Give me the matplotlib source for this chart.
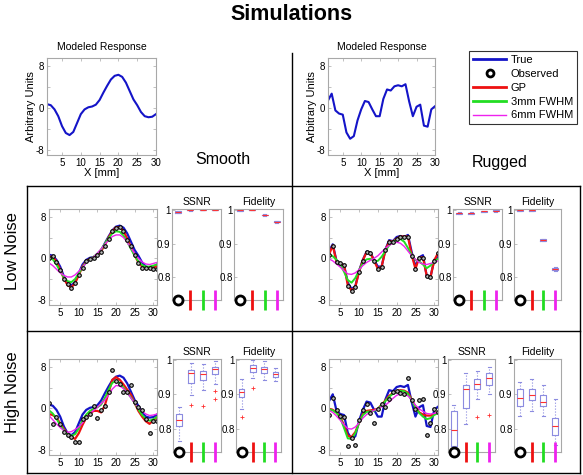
import numpy as np
import matplotlib
matplotlib.use('Agg')
import matplotlib.pyplot as plt
from matplotlib.lines import Line2D

plt.rcParams['font.family'] = ['Liberation Sans', 'DejaVu Sans']

# ---------------- data ----------------
x_top = np.arange(1, 31)
x_low = np.arange(2, 32)

true_smooth = [0.7, 0.5, -0.3, -1.6, -3.5, -4.8, -5.2, -4.6, -2.9, -1.2, -0.3, 0.1, 0.25, 0.6, 1.5,
               2.9, 4.2, 5.4, 6.1, 6.3, 5.9, 4.8, 3.2, 1.6, 0.5, -0.8, -1.6, -1.8, -1.7, -1.2]
true_rugged = [1.4, 2.7, -0.5, -1.1, -1.3, -4.7, -5.9, -5.4, -2.4, -0.3, 1.3, 1.1, -0.3, -1.6, -1.6,
               1.7, 3.5, 3.3, 4.1, 4.3, 4.1, 4.5, 1.2, -1.6, 0.2, 0.6, -3.4, -3.6, -0.3, 0.3]

# low noise, smooth
ls_obs = [0.1, 0.4, -0.8, -2.2, -4.0, -5.0, -5.7, -4.8, -3.3, -1.8, -0.6, -0.2, 0.1, 0.7, 1.3,
          2.4, 3.8, 5.2, 5.8, 6.0, 5.2, 3.6, 2.3, 0.6, -0.9, -1.8, -1.9, -1.9, -2.1, -2.0]
ls_gp = [0.3, 0.3, -0.6, -2.2, -3.9, -5.2, -5.6, -4.8, -3.2, -1.6, -0.6, -0.1, 0.2, 0.6, 1.4,
         2.6, 4.0, 5.2, 6.0, 6.0, 5.3, 3.8, 2.2, 0.6, -0.8, -1.6, -1.9, -1.9, -1.8, -1.5]
ls_3mm = [0.2, -0.2, -1.2, -2.5, -3.7, -4.4, -4.6, -4.0, -2.9, -1.7, -0.8, -0.2, 0.3, 0.9, 1.7,
          2.8, 3.9, 4.8, 5.2, 5.1, 4.4, 3.2, 1.8, 0.5, -0.6, -1.3, -1.6, -1.6, -1.4, -1.2]
ls_6mm = [-0.9, -1.4, -2.1, -2.8, -3.3, -3.6, -3.6, -3.2, -2.5, -1.7, -0.9, -0.3, 0.3, 1.0, 1.8,
          2.7, 3.5, 4.2, 4.5, 4.5, 4.0, 3.1, 2.0, 0.9, 0.0, -0.7, -1.1, -1.2, -1.0, -0.8]

# low noise, rugged
lr_obs = [0.6, 2.4, -0.8, -1.0, -1.3, -5.3, -6.3, -5.6, -2.7, -0.5, 1.2, 1.0, -0.6, -2.1, -1.6,
          1.6, 3.2, 3.2, 3.7, 4.2, 4.2, 4.2, 0.5, -2.1, 0.0, 0.1, -3.5, -3.7, -0.5, 1.0]
lr_gp = [0.7, 2.5, -0.7, -1.1, -1.3, -5.2, -6.2, -5.5, -2.6, -0.4, 1.2, 1.0, -0.5, -2.0, -1.6,
         1.5, 3.3, 3.2, 3.8, 4.2, 4.2, 4.2, 0.6, -2.0, 0.1, 0.2, -3.4, -3.6, -0.4, 1.0]
lr_3mm = [0.8, 0.4, -0.3, -1.2, -2.6, -4.2, -4.7, -3.8, -2.3, -0.9, -0.2, -0.1, -0.5, -0.5, 0.3,
          1.4, 2.5, 3.2, 3.6, 3.7, 3.2, 2.0, 0.6, -0.3, -0.6, -1.2, -1.9, -1.4, -0.6, -0.1]
lr_6mm = [-0.1, -0.5, -1.1, -1.7, -2.4, -3.0, -3.1, -2.8, -2.2, -1.4, -0.8, -0.4, 0.0, 0.5, 1.2,
          1.9, 2.5, 2.9, 3.1, 2.9, 2.3, 1.4, 0.5, -0.2, -0.8, -1.1, -1.2, -1.0, -0.8, -0.5]

# high noise, smooth
hs_obs = [1.0, -3.0, -1.7, -3.0, -4.6, -5.1, -5.6, -6.4, -6.5, -2.1, -1.7, -1.1, 0.4, -1.9, -0.4,
          0.4, 3.1, 7.4, 5.3, 4.7, 3.2, 3.1, 4.5, 1.3, 0.2, -0.4, -2.1, -4.7, -2.4, -2.4]
hs_gp = [-1.1, -1.3, -1.8, -2.9, -4.0, -4.9, -5.5, -5.9, -4.8, -3.2, -1.8, -1.0, -0.5, -0.5, -0.8,
         0.6, 3.0, 5.5, 6.0, 5.5, 4.6, 3.6, 2.6, 1.0, -0.5, -1.6, -2.5, -3.0, -2.3, -1.7]
hs_3mm = [-0.4, -1.0, -2.0, -3.2, -4.2, -5.0, -5.3, -5.0, -3.9, -2.3, -1.2, -0.5, -0.1, 0.2, 0.7,
          2.0, 3.6, 4.9, 5.3, 4.9, 4.0, 3.0, 2.1, 1.0, -0.2, -1.3, -2.0, -2.4, -2.1, -1.7]
hs_6mm = [-1.4, -2.2, -3.0, -3.7, -4.3, -4.6, -4.5, -4.1, -3.6, -2.8, -1.8, -1.0, -0.4, 0.2, 0.9,
          1.6, 2.6, 3.7, 4.4, 4.3, 3.8, 3.0, 2.0, 1.0, 0.1, -0.6, -1.1, -1.4, -1.3, -1.1]

# high noise, rugged
hr_obs = [-1.2, 2.0, -0.3, -1.4, -1.6, -7.3, -5.8, -7.0, -2.2, -0.3, 0.8, -1.0, -2.8, -0.2, 0.8,
          0.2, 1.8, 3.2, 3.4, 3.0, 2.8, 5.8, 1.6, -0.2, 1.6, 1.8, -5.2, -2.9, -0.1, -0.8]
hr_gp = [-0.1, -0.3, -0.8, -1.6, -3.3, -5.3, -5.5, -4.6, -2.8, -1.1, -0.5, -0.4, -0.3, -0.1, 0.7,
         1.5, 2.4, 2.9, 3.3, 3.5, 3.4, 3.0, 1.7, 0.3, -0.8, -1.2, -1.4, -1.4, -1.1, -0.8]
hr_3mm = [-0.2, -0.4, -0.9, -1.8, -3.8, -5.8, -5.9, -4.8, -2.8, -1.3, -0.7, -0.6, -0.5, -0.1, 0.6,
          1.4, 2.2, 2.8, 3.2, 3.4, 3.3, 2.8, 1.5, 0.2, -0.9, -1.6, -2.1, -1.9, -1.3, -0.9]
hr_6mm = [-0.4, -0.8, -1.5, -2.3, -3.2, -3.9, -4.0, -3.6, -2.8, -1.9, -1.2, -0.7, -0.4, -0.1, 0.3,
          0.6, 1.2, 1.9, 2.5, 2.8, 2.7, 2.4, 1.6, 0.6, -0.1, -0.6, -1.0, -1.1, -1.0, -0.8]

# box statistics per group: [whisker low, q1, median, q3, whisker high]
ls_ssnr = [[0.989, 0.991, 0.993, 0.995, 0.997], [0.997, 0.998, 0.999, 0.9995, 1.0],
           [0.998, 0.999, 0.9995, 1.0, 1.0], [0.998, 0.999, 0.9995, 1.0, 1.0]]
ls_fid = [[0.996, 0.997, 0.998, 0.999, 1.0], [0.998, 0.999, 0.9995, 1.0, 1.0],
          [0.981, 0.983, 0.984, 0.985, 0.987], [0.962, 0.964, 0.965, 0.966, 0.968]]
lr_ssnr = [[0.986, 0.988, 0.989, 0.990, 0.992], [0.986, 0.988, 0.989, 0.990, 0.992],
           [0.993, 0.994, 0.995, 0.996, 0.997], [0.994, 0.996, 0.997, 0.998, 0.999]]
lr_fid = [[0.996, 0.997, 0.998, 0.999, 1.0], [0.996, 0.997, 0.998, 0.999, 1.0],
          [0.906, 0.908, 0.910, 0.912, 0.914], [0.820, 0.822, 0.825, 0.828, 0.830]]
hs_ssnr = [[0.764, 0.808, 0.826, 0.842, 0.864], [0.897, 0.934, 0.961, 0.970, 0.990],
           [0.911, 0.941, 0.958, 0.967, 0.987], [0.931, 0.958, 0.973, 0.980, 0.995]]
hs_fid = [[0.857, 0.892, 0.906, 0.916, 0.943], [0.946, 0.964, 0.975, 0.985, 1.0],
          [0.941, 0.961, 0.972, 0.980, 0.997], [0.938, 0.949, 0.958, 0.965, 0.975]]
hr_ssnr = [[0.70, 0.751, 0.798, 0.852, 0.869], [0.813, 0.859, 0.916, 0.926, 0.961],
           [0.887, 0.916, 0.931, 0.944, 0.966], [0.901, 0.928, 0.948, 0.961, 0.980]]
hr_fid = [[0.838, 0.867, 0.890, 0.916, 0.936], [0.852, 0.882, 0.899, 0.916, 0.943],
          [0.838, 0.867, 0.878, 0.897, 0.926], [0.754, 0.783, 0.808, 0.830, 0.887]]
# outliers per group
ls_ssnr_out = [[], [], [], []]
ls_fid_out = [[], [], [], []]
lr_ssnr_out = [[], [], [], []]
lr_fid_out = [[], [], [], []]
hs_ssnr_out = [[], [0.869], [0.865], [0.908, 0.887]]
hs_fid_out = [[0.835], [0.917], [], []]
hr_ssnr_out = [[], [], [0.835], [0.839]]
hr_fid_out = [[], [], [], []]

legend_labels = ['True', 'Observed', 'GP', '3mm FWHM', '6mm FWHM']
box_ticks = [0.8, 0.9, 1.0]
box_ticklabels = ['0.8', '0.9', '1']

# ---------------- style ----------------
BLUE = '#1414c8'
RED = '#ee1111'
GREEN = '#22dd22'
MAG = '#ee22ee'
BOXC = '#8c8ce0'
SPINE = '#a8a8a8'

W, H = 583, 475
fig = plt.figure(figsize=(W / 100, H / 100), dpi=100)


def rect(l, t, r, b):
    return [l / W, 1 - b / H, (r - l) / W, (b - t) / H]


def style_main(ax, xlim):
    ax.set_xlim(*xlim)
    ax.set_ylim(-9, 9.5)
    ax.set_xticks([5, 10, 15, 20, 25, 30])
    ax.set_yticks([-8, -4, 0, 4, 8])
    ax.set_yticklabels(['-8', '', '0', '', '8'])
    ax.tick_params(direction='in', length=2, width=0.5, labelsize=7, top=True, right=True,
                   colors=SPINE, labelcolor='black', pad=2)
    for s in ax.spines.values():
        s.set_color(SPINE)
        s.set_linewidth(0.8)


def main_panel(r, obs, gp, g3, g6, true):
    ax = fig.add_axes(rect(*r))
    ax.plot(x_low, true, color=BLUE, lw=1.6)
    ax.plot(x_low, gp, color=RED, lw=1.6)
    ax.plot(x_low, g3, color=GREEN, lw=1.4)
    ax.plot(x_low, g6, color=MAG, lw=1.0)
    ax.plot(x_low, obs, ls='none', marker='o', ms=2.6, mfc='#bbbbbb', mec='black', mew=0.8)
    style_main(ax, (2, 31))
    return ax


def box_panel(r, rows, outs, title):
    ax = fig.add_axes(rect(*r))
    stats = []
    for row, fl in zip(rows, outs):
        stats.append(dict(whislo=row[0], q1=row[1], med=row[2], q3=row[3], whishi=row[4], fliers=fl))
    ax.bxp(stats, positions=[1, 2, 3, 4], widths=0.5,
           boxprops=dict(color=BOXC, lw=0.8),
           medianprops=dict(color='#ff3030', lw=0.8),
           whiskerprops=dict(color=BOXC, lw=0.8, ls=':'),
           capprops=dict(color=BOXC, lw=0.8),
           flierprops=dict(marker='+', markeredgecolor='#ff3030', markersize=3, markeredgewidth=0.6))
    ax.set_xlim(0.5, 4.5)
    ax.set_ylim(0.733, 1.002)
    ax.set_xticks([])
    ax.set_yticks(box_ticks)
    ax.set_yticklabels(box_ticklabels)
    ax.tick_params(direction='in', length=2, width=0.5, labelsize=7, colors=SPINE,
                   labelcolor='black', pad=1)
    for s in ax.spines.values():
        s.set_color(SPINE)
        s.set_linewidth(0.8)
    ax.set_title(title, fontsize=7.5, pad=3)
    ymin = ax.get_ylim()[0]
    ax.plot(1, ymin, 'o', ms=6.5, mfc='white', mec='black', mew=2, clip_on=False, zorder=6)
    for pos, c in zip([2, 3, 4], [RED, GREEN, MAG]):
        ax.plot(pos, ymin, '|', ms=14, mew=2, color=c, clip_on=False, zorder=6)
    return ax


# ---------------- top row ----------------
for r, data in [((47, 58, 156, 155), true_smooth), ((328, 58, 435, 155), true_rugged)]:
    ax = fig.add_axes(rect(*r))
    ax.plot(x_top, data, color=BLUE, lw=1.5)
    style_main(ax, (1, 30))
    ax.set_title('Modeled Response', fontsize=7.5, pad=6)
    ax.set_xlabel('X [mm]', fontsize=8, labelpad=0)
    ax.set_ylabel('Arbitrary Units', fontsize=8, labelpad=0)

fig.text(0.5, 1 - 14 / H, 'Simulations', ha='center', va='center', fontsize=15.5, fontweight='bold')
fig.text(223 / W, 1 - 159 / H, 'Smooth', ha='center', va='center', fontsize=11.5)
fig.text(500 / W, 1 - 162 / H, 'Rugged', ha='center', va='center', fontsize=11.5)
fig.text(13 / W, 1 - 251 / H, 'Low Noise', ha='center', va='center', rotation=90, fontsize=12)
fig.text(13 / W, 1 - 392 / H, 'High Noise', ha='center', va='center', rotation=90, fontsize=12)

# legend
handles = [Line2D([], [], color=BLUE, lw=2),
           Line2D([], [], ls='none', marker='o', mfc='white', mec='black', mew=2, ms=5),
           Line2D([], [], color=RED, lw=2),
           Line2D([], [], color=GREEN, lw=2),
           Line2D([], [], color=MAG, lw=1)]
leg = fig.legend(handles, legend_labels, loc='upper left', bbox_to_anchor=(469 / W, 1 - 51 / H),
                 fontsize=8, handlelength=3, handletextpad=0.4, labelspacing=0.35,
                 borderpad=0.35, borderaxespad=0, fancybox=False, frameon=True)
leg.get_frame().set_edgecolor('black')
leg.get_frame().set_linewidth(0.8)

# ---------------- panels ----------------
main_panel((49, 209, 157, 305), ls_obs, ls_gp, ls_3mm, ls_6mm, true_smooth)
box_panel((172, 209, 221, 300), ls_ssnr, ls_ssnr_out, 'SSNR')
box_panel((234, 209, 283, 300), ls_fid, ls_fid_out, 'Fidelity')

main_panel((329, 209, 438, 305), lr_obs, lr_gp, lr_3mm, lr_6mm, true_rugged)
box_panel((453, 209, 502, 300), lr_ssnr, lr_ssnr_out, 'SSNR')
box_panel((514, 209, 561, 300), lr_fid, lr_fid_out, 'Fidelity')

main_panel((49, 359, 157, 455), hs_obs, hs_gp, hs_3mm, hs_6mm, true_smooth)
box_panel((173, 359, 221, 452), hs_ssnr, hs_ssnr_out, 'SSNR')
box_panel((236, 359, 281, 452), hs_fid, hs_fid_out, 'Fidelity')

main_panel((329, 359, 438, 455), hr_obs, hr_gp, hr_3mm, hr_6mm, true_rugged)
box_panel((448, 359, 495, 452), hr_ssnr, hr_ssnr_out, 'SSNR')
box_panel((514, 359, 561, 452), hr_fid, hr_fid_out, 'Fidelity')

# ---------------- frame lines ----------------
def fline(x0, y0, x1, y1):
    fig.add_artist(Line2D([x0 / W, x1 / W], [1 - y0 / H, 1 - y1 / H], transform=fig.transFigure,
                          color='black', lw=1))

fline(292, 53, 292, 473)
fline(27, 186, 580, 186)
fline(27, 331, 580, 331)
fline(27, 186, 27, 473)
fline(580, 186, 580, 473)
fline(27, 473, 580, 473)

fig.savefig('out.png', dpi=100)
